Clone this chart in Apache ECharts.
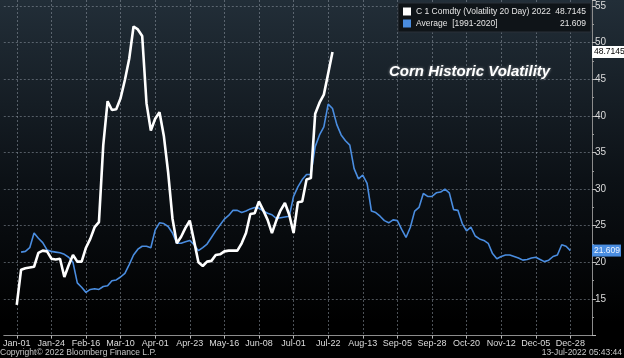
<!DOCTYPE html>
<html>
<head>
<meta charset="utf-8">
<script src="https://cdn.jsdelivr.net/npm/echarts@6/dist/echarts.min.js"></script>
<style>
html,body{margin:0;padding:0;background:#000;}
#c{width:624px;height:358px;}
</style>
</head>
<body>
<div id="c"></div>
<script>
// tick labels of the x axis (one every 8 sample slots)
const tickLabels = ['Jan-01','Jan-24','Feb-16','Mar-10','Apr-01','Apr-23','May-16','Jun-08','Jul-01','Jul-22','Aug-13','Sep-05','Sep-28','Oct-20','Nov-12','Dec-05','Dec-28'];
const seriesNames = ['C 1 Comdty (Volatility 20 Day) 2022', 'Average  [1991-2020]'];
const lastValues = ['48.7145', '21.609'];

// C 1 Comdty 20-day volatility 2022, from Jan-01
const comdtyVol2022 = [
  14.2,19.0,19.2,19.3,19.4,21.3,21.6,21.5,20.5,20.4,
  20.5,18.0,19.6,21.0,20.1,20.1,22.0,23.2,24.8,25.5,
  36.0,42.0,40.8,40.9,42.4,44.9,47.8,52.2,51.8,50.9,
  41.7,38.0,39.6,40.5,37.3,32.3,26.0,22.6,23.5,24.7,
  25.7,22.9,20.0,19.5,20.1,20.2,21.0,21.1,21.5,21.6,
  21.6,21.6,22.6,24.0,26.6,26.7,28.3,27.1,25.8,24.0,
  25.7,27.1,28.1,26.5,24.0,28.2,28.3,31.3,31.5,40.3,
  41.8,42.9,45.8,48.7145
];
// Average 1991-2020, from the second slot after Jan-01
const average9120 = [
  21.4,21.5,22.0,24.0,23.3,22.7,21.7,21.5,21.4,21.3,
  21.1,20.7,20.0,17.2,16.6,15.9,16.3,16.4,16.3,16.7,
  16.8,17.5,17.6,18.0,18.5,19.7,21.0,21.8,22.2,22.2,
  22.0,24.4,25.4,25.3,24.9,24.0,22.6,22.6,22.8,23.0,
  22.4,21.6,22.0,22.5,23.4,24.3,25.1,25.9,26.4,27.1,
  27.1,26.8,27.0,27.3,27.5,27.4,27.0,26.7,26.5,26.0,
  26.1,26.2,26.3,29.0,30.3,31.3,32.0,32.0,35.8,37.4,
  38.5,41.6,41.0,38.8,37.4,36.6,36.0,32.8,31.4,31.9,
  30.8,27.0,26.8,26.3,25.7,25.4,25.8,25.7,24.5,23.4,
  24.8,27.0,27.5,29.4,29.0,29.0,29.5,29.6,30.0,29.5,
  27.2,27.1,25.3,24.3,24.8,23.6,23.2,23.0,22.6,21.2,
  20.5,20.8,21.0,21.0,20.8,20.6,20.3,20.4,20.6,20.7,
  20.4,20.1,20.3,20.8,21.0,22.4,22.2,21.609
];

const PRE = 3, PER = 8, POST = 5;
const nCats = PRE + (tickLabels.length - 1) * PER + 1 + POST;
const categories = Array.from({length: nCats}, (_, i) => 'p' + i);
const pad = n => Array(n).fill('-');
const whiteData = pad(PRE).concat(comdtyVol2022);
const blueData = pad(PRE + 1).concat(average9120);
const isTick = idx => idx >= PRE && (idx - PRE) % PER === 0 && (idx - PRE) / PER < tickLabels.length;

const FONT = "'Liberation Sans Narrow','Arial Narrow','Liberation Sans',Arial,sans-serif";
const WHITE = '#ffffff', BLUE = '#4a8de0';
const gridDot = {color: 'rgba(140,150,160,0.55)', width: 1, type: [2, 2]};
const clear = 'rgba(0,0,0,0)';

const chart = echarts.init(document.getElementById('c'), null, {renderer: 'canvas'});
chart.setOption({
  animation: false,
  backgroundColor: {
    type: 'linear', x: 0, y: 0, x2: 0, y2: 1,
    colorStops: [{offset: 0, color: '#222e38'}, {offset: 0.5, color: '#0c1116'}, {offset: 0.9, color: '#000'}]
  },
  textStyle: {fontFamily: FONT},
  title: [
    {text: 'Corn Historic Volatility', left: 384, top: 59,
     textStyle: {color: '#fff', fontSize: 15, fontWeight: 'bold', fontStyle: 'italic',
                 fontFamily: "'Liberation Sans',Arial,sans-serif",
                 textShadowColor: 'rgba(255,255,255,0.45)', textShadowBlur: 3}},
    {text: 'Copyright\u00a9 2022 Bloomberg Finance L.P.', left: 0, bottom: 1, padding: 0,
     textStyle: {color: '#c8c8c8', fontSize: 8.5, fontWeight: 'normal', fontFamily: FONT}},
    {text: '13-Jul-2022 05:43:44', right: 2, bottom: 1, padding: 0,
     textStyle: {color: '#c8c8c8', fontSize: 8.5, fontWeight: 'normal', fontFamily: FONT}}
  ],
  legend: {
    orient: 'vertical', left: 398, top: 3, itemGap: 3, itemWidth: 8, itemHeight: 8,
    padding: [4, 5, 4, 5], icon: 'rect', backgroundColor: '#0f1418', borderColor: '#2a3038', borderWidth: 1,
    data: [{name: seriesNames[0], itemStyle: {color: WHITE}}, {name: seriesNames[1], itemStyle: {color: BLUE}}],
    formatter: name => '{n|' + name + '}{v|' + lastValues[seriesNames.indexOf(name)] + '}',
    textStyle: {color: '#e6e6e6', fontSize: 8.5, fontFamily: FONT,
      rich: {n: {width: 141, fontSize: 8.5, fontFamily: FONT, color: '#e6e6e6'},
             v: {width: 29, align: 'right', fontSize: 8.5, fontFamily: FONT, color: '#e6e6e6'}}},
    selectedMode: false
  },
  grid: {left: 1, right: 32, top: 0, bottom: 22.4, containLabel: false},
  xAxis: {
    type: 'category', data: categories, boundaryGap: false,
    axisLine: {show: true, lineStyle: {color: '#8c8c8c', width: 1}},
    axisTick: {show: true, interval: isTick, length: 3, lineStyle: {color: '#bbb'}},
    axisLabel: {interval: isTick, color: '#dcdcdc', fontSize: 9, margin: 3, fontFamily: FONT,
      formatter: (v, idx) => tickLabels[(idx - PRE) / PER]},
    splitLine: {show: true, interval: isTick, lineStyle: gridDot}
  },
  yAxis: {
    type: 'value', position: 'right', min: 10, max: 55.82, interval: 5,
    axisLine: {show: true, lineStyle: {color: '#8c8c8c', width: 1}},
    axisTick: {show: true, length: 4, lineStyle: {color: '#bbb'}},
    minorTick: {show: true, splitNumber: 2, length: 2, lineStyle: {color: '#999'}},
    axisLabel: {color: '#dcdcdc', fontSize: 10, margin: 3, fontFamily: FONT,
      showMinLabel: false, showMaxLabel: false},
    splitLine: {show: true, showMinLine: false, showMaxLine: false, lineStyle: gridDot}
  },
  series: [
    {name: seriesNames[1], type: 'line', data: blueData, showSymbol: false, symbol: 'none',
     lineStyle: {color: BLUE, width: 1.6}, itemStyle: {color: BLUE}, z: 2,
     markLine: {silent: true, symbol: 'none', lineStyle: {color: clear, width: 1, type: 'solid'},
       data: [{yAxis: 21.609}],
       label: {show: true, position: 'end', distance: 0, formatter: lastValues[1], color: '#eef4ff',
         backgroundColor: BLUE, padding: [2, 1, 1, 2], fontSize: 8.5, fontFamily: FONT}}},
    {name: seriesNames[0], type: 'line', data: whiteData, showSymbol: false, symbol: 'none',
     lineStyle: {color: WHITE, width: 2.6}, itemStyle: {color: WHITE}, z: 3,
     markLine: {silent: true, symbol: 'none', lineStyle: {color: clear, width: 1, type: 'solid'},
       data: [{yAxis: 48.7145}],
       label: {show: true, position: 'end', distance: 0, formatter: lastValues[0], color: '#000',
         backgroundColor: '#fff', padding: [2, 1, 1, 2], fontSize: 8.5, fontFamily: FONT}}}
  ]
});
</script>
</body>
</html>
